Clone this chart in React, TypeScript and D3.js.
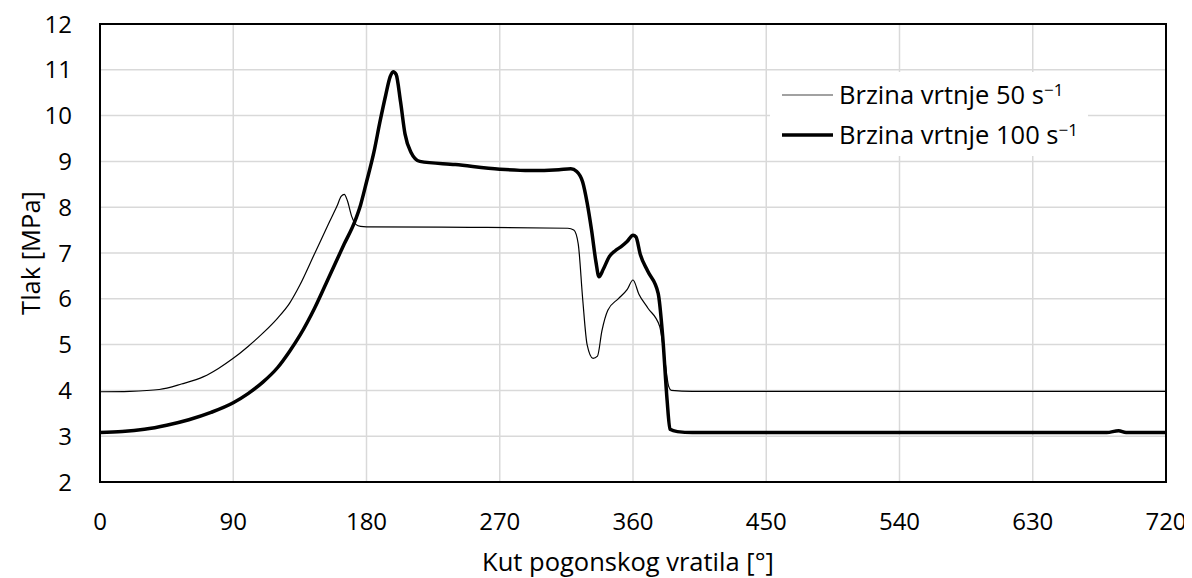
import React, { useRef, useEffect } from 'react';
import * as d3 from 'd3';

// angle [deg] and pressure [MPa]
const angles50 = [0, 20, 40, 55, 70, 80, 90, 100, 110, 120, 128, 135, 145, 155, 160, 163, 165, 167, 170, 173, 176, 180, 250, 316, 320, 323, 326, 329, 333, 336, 339, 343, 350, 356, 360, 364, 370, 378, 381, 384, 386, 400, 720];
const values50 = [3.97, 3.98, 4.02, 4.14, 4.3, 4.48, 4.7, 4.96, 5.25, 5.58, 5.9, 6.3, 6.99, 7.68, 8.02, 8.24, 8.28, 8.15, 7.8, 7.62, 7.58, 7.57, 7.56, 7.54, 7.5, 7.2, 6.0, 5.0, 4.7, 4.75, 5.3, 5.75, 6.0, 6.2, 6.41, 6.1, 5.8, 5.4, 4.8, 4.1, 4.0, 3.98, 3.98];

const angles100 = [0, 15, 30, 45, 60, 75, 90, 100, 110, 120, 128, 135, 145, 155, 165, 172, 176, 180, 185, 189, 193, 196, 198, 200, 203, 206, 210, 216, 240, 270, 290, 310, 318, 322, 326, 329, 332, 335, 337, 340, 344, 348, 352, 356, 360, 362, 365, 370, 377, 380, 383, 385, 390, 400, 680, 688, 693, 720];
const values100 = [3.08, 3.1, 3.15, 3.24, 3.36, 3.52, 3.73, 3.93, 4.18, 4.5, 4.85, 5.2, 5.8, 6.5, 7.2, 7.68, 8.05, 8.55, 9.2, 9.85, 10.45, 10.85, 10.96, 10.9, 10.3, 9.6, 9.2, 9.0, 8.93, 8.83, 8.8, 8.82, 8.84, 8.78, 8.55, 8.1, 7.5, 6.8, 6.48, 6.65, 6.92, 7.05, 7.14, 7.25, 7.39, 7.35, 6.96, 6.6, 6.12, 5.2, 3.8, 3.15, 3.1, 3.08, 3.08, 3.12, 3.08, 3.08];

const xTicks = [0, 90, 180, 270, 360, 450, 540, 630, 720];
const yTicks = [2, 3, 4, 5, 6, 7, 8, 9, 10, 11, 12];

const seriesLabels = ['Brzina vrtnje 50 s', 'Brzina vrtnje 100 s'];

const App: React.FC = () => {
    const svgRef = useRef<SVGSVGElement | null>(null);
    const width = 1192;
    const height = 578;

    useEffect(() => {
        const svg = d3.select(svgRef.current);
        svg.selectAll('*').remove();

        const margin = { top: 24, right: 26, bottom: 96, left: 100 };
        const font = '"Open Sans", sans-serif';

        const x = d3.scaleLinear().domain([0, 720]).range([margin.left, width - margin.right]);
        const y = d3.scaleLinear().domain([2, 12]).range([height - margin.bottom, margin.top]);

        // gridlines
        const grid = svg.append('g');
        grid.selectAll('.hg')
            .data(yTicks)
            .enter()
            .append('line')
            .attr('x1', x(0))
            .attr('x2', x(720))
            .attr('y1', d => y(d))
            .attr('y2', d => y(d))
            .style('stroke', '#d9d9d9')
            .style('stroke-width', '1.5px');
        grid.selectAll('.vg')
            .data(xTicks)
            .enter()
            .append('line')
            .attr('x1', d => x(d))
            .attr('x2', d => x(d))
            .attr('y1', y(2))
            .attr('y2', y(12))
            .style('stroke', '#d9d9d9')
            .style('stroke-width', '1.5px');

        // tick labels
        svg.append('g')
            .selectAll('text')
            .data(xTicks)
            .enter()
            .append('text')
            .attr('x', d => x(d))
            .attr('y', 530)
            .attr('text-anchor', 'middle')
            .style('font-family', font)
            .style('font-size', '24px')
            .text(d => d);

        svg.append('g')
            .selectAll('text')
            .data(yTicks)
            .enter()
            .append('text')
            .attr('x', 72)
            .attr('y', d => y(d))
            .attr('dy', '0.36em')
            .attr('text-anchor', 'end')
            .style('font-family', font)
            .style('font-size', '24px')
            .text(d => d);

        // axis titles
        svg.append('text')
            .attr('x', x(360) - 5)
            .attr('y', 571)
            .attr('text-anchor', 'middle')
            .style('font-family', font)
            .style('font-size', '25.5px')
            .text('Kut pogonskog vratila [°]');

        svg.append('text')
            .attr('transform', `translate(40,${y(7)}) rotate(-90)`)
            .attr('text-anchor', 'middle')
            .style('font-family', font)
            .style('font-size', '25.5px')
            .text('Tlak [MPa]');

        // lines
        const line = d3.line<[number, number]>()
            .x(d => x(d[0]))
            .y(d => y(d[1]))
            .curve(d3.curveMonotoneX);

        const pts50 = angles50.map((a, i) => [a, values50[i]] as [number, number]);
        const pts100 = angles100.map((a, i) => [a, values100[i]] as [number, number]);

        svg.append('path')
            .datum(pts50)
            .attr('d', line)
            .style('fill', 'none')
            .style('stroke', '#000')
            .style('stroke-width', '1.2px');

        svg.append('path')
            .datum(pts100)
            .attr('d', line)
            .style('fill', 'none')
            .style('stroke', '#000')
            .style('stroke-width', '3.5px')
            .style('stroke-linejoin', 'round');

        // plot frame
        svg.append('rect')
            .attr('x', x(0))
            .attr('y', y(12))
            .attr('width', x(720) - x(0))
            .attr('height', y(2) - y(12))
            .style('fill', 'none')
            .style('stroke', '#000')
            .style('stroke-width', '2px');

        // legend
        const legend = svg.append('g').attr('transform', 'translate(770,72)');
        legend.append('rect')
            .attr('width', 318)
            .attr('height', 84)
            .style('fill', '#fff');

        seriesLabels.forEach((label, idx) => {
            const row = legend.append('g').attr('transform', `translate(0, ${23 + idx * 40})`);
            row.append('line')
                .attr('x1', 12)
                .attr('x2', 63)
                .attr('y1', 0)
                .attr('y2', 0)
                .style('stroke', idx === 0 ? '#444' : '#000')
                .style('stroke-width', idx === 0 ? '1.2px' : '3.5px');
            const t = row.append('text')
                .attr('x', 69)
                .attr('y', 0)
                .attr('dy', '0.36em')
                .style('font-family', font)
                .style('font-size', '25.5px')
                .text(label);
            t.append('tspan')
                .attr('dy', '-0.5em')
                .style('font-size', '17px')
                .text('\u22121');
        });
    }, []);

    return (
        <div>
            <svg ref={svgRef} width={width} height={height} style={{ display: 'block', marginTop: -8, marginLeft: -8 }}></svg>
        </div>
    );
};

export default App;
